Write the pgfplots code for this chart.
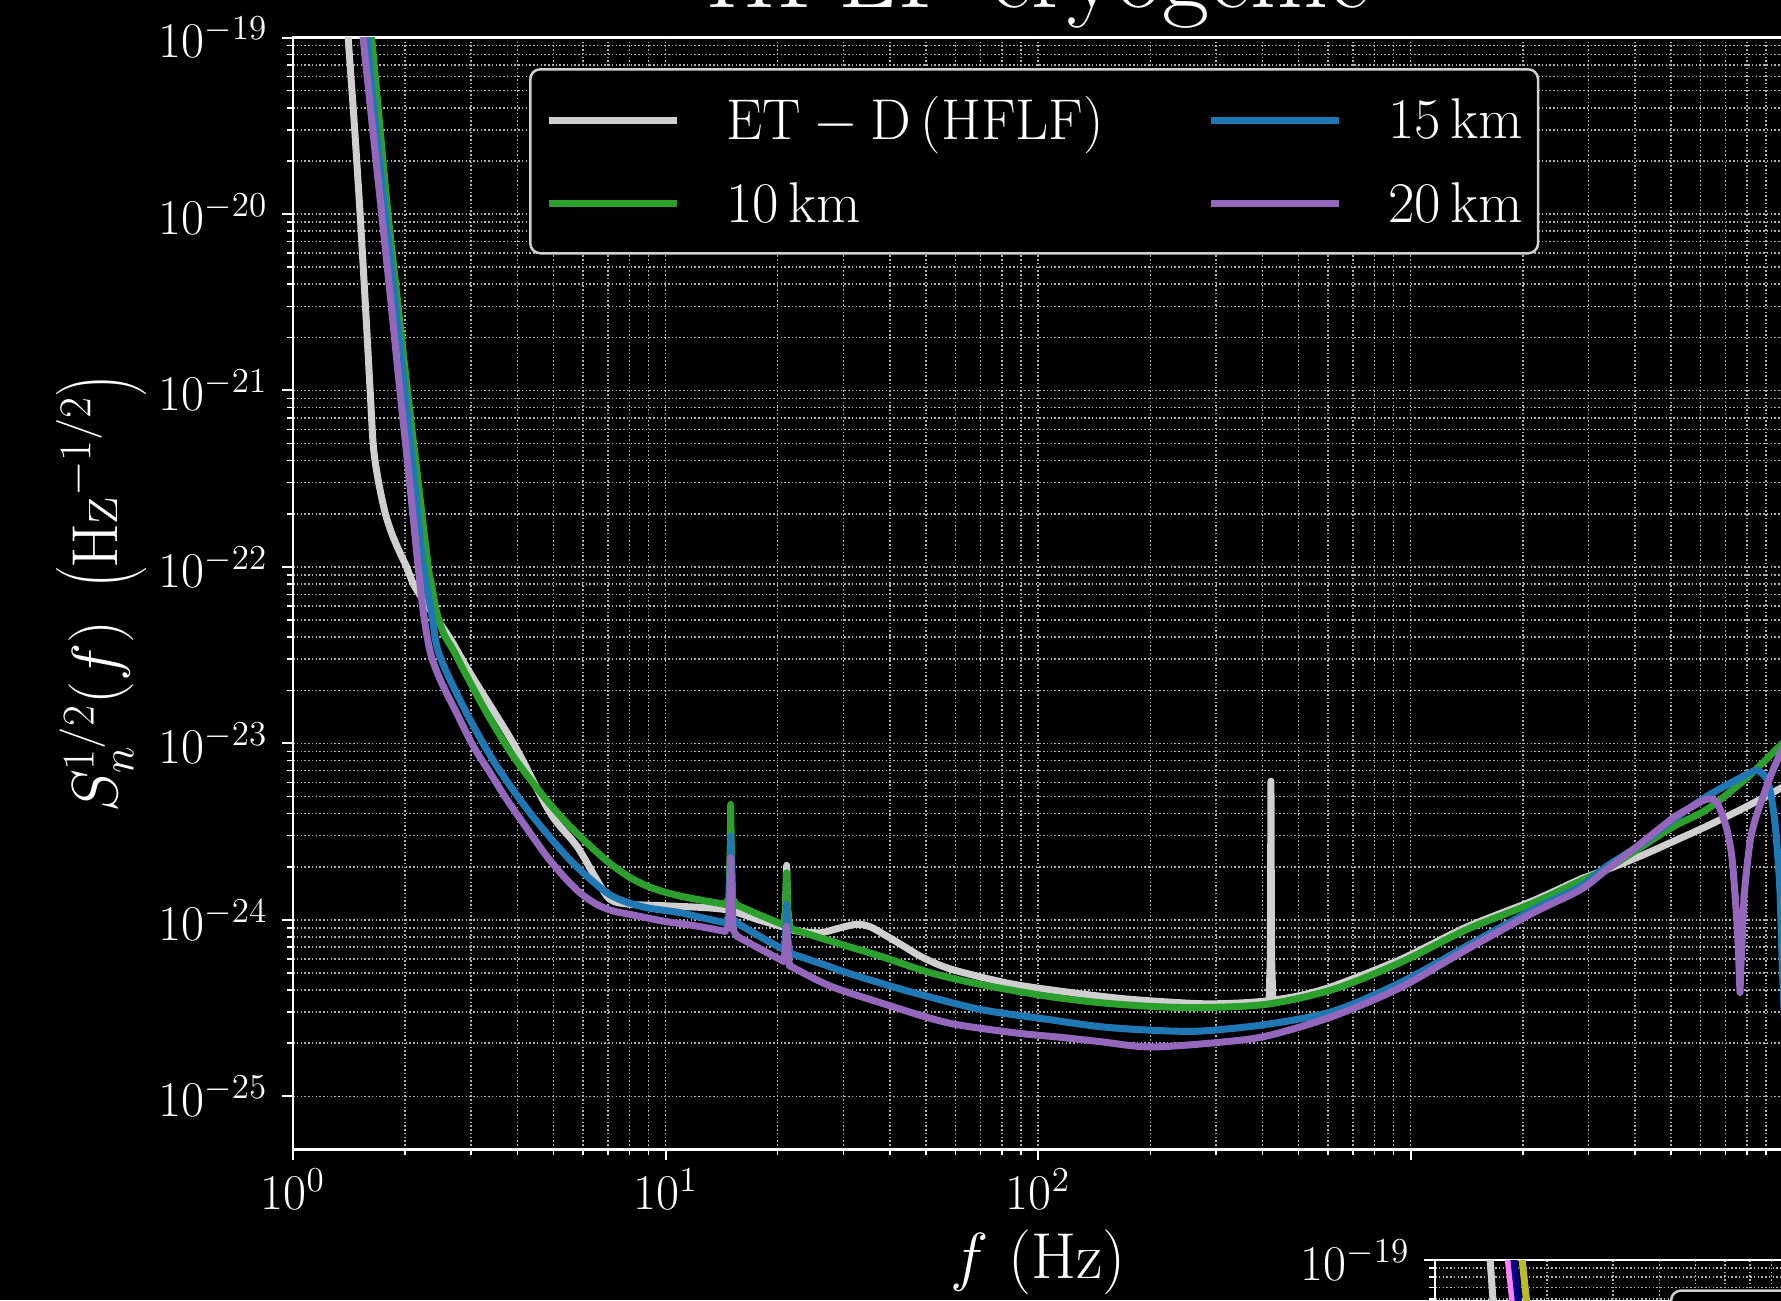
\RequirePackage{fix-cm}
\documentclass[border=0pt]{standalone}
\usepackage{pgfplots}
\pgfplotsset{compat=1.18}
\definecolor{etgray}{HTML}{CFCFCF}
\definecolor{tabgreen}{HTML}{2CA02C}
\definecolor{tabblue}{HTML}{1F77B4}
\definecolor{tabpurple}{HTML}{9467BD}
\definecolor{pinkv}{HTML}{FF80FF}
\definecolor{navyc}{HTML}{000080}
\definecolor{olivec}{HTML}{BCBD22}
\definecolor{gridc}{HTML}{B0B0B0}
\definecolor{legedge}{HTML}{D0D0D0}
\pgfplotsset{every axis/.append style={
    scale only axis, width=596.08pt, height=444.76pt,
    xmin=1, xmax=1e4, ymin=5e-26, ymax=1e-19,
    xtick={1,10,100,1000,10000},
    ytick={1e-25,1e-24,1e-23,1e-22,1e-21,1e-20,1e-19},
    axis line style={white, line width=0.9pt},
    xtick pos=left, ytick pos=left, tick align=outside,
    major tick length=4.4pt, minor tick length=2.4pt,
    major tick style={white, line width=0.8pt},
    minor tick style={white, line width=0.6pt},
    grid=both,
    major grid style={gridc, line width=0.6pt, dash pattern=on 0.6pt off 0.9pt},
    minor grid style={gridc, line width=0.6pt, dash pattern=on 0.6pt off 0.9pt},
    tick label style={white, font=\fontsize{20}{24}\selectfont},
    yticklabel style={xshift=-2.3pt},
  },
  every axis plot/.append style={line width=2.8pt, line join=round, line cap=round},
  sm/.style={smooth, tension=0.5},
}
\begin{document}
\begin{tikzpicture}
\fill[black] (0pt,0pt) rectangle (712.4pt,520pt);
\begin{loglogaxis}[
  at={(117.2pt,60.24pt)}, anchor=south west,
  xticklabels={$10^{0}$,$10^{1}$,$10^{2}$,,},
  title={HFLF cryogenic},
  title style={at={(axis description cs:0.5,1.0135)}, anchor=base, text=white, font=\fontsize{41}{49}\selectfont},
  xlabel={$f\ (\mathrm{Hz})$},
  xlabel style={at={(axis description cs:0.5,-0.1162)}, anchor=base, text=white, font=\fontsize{26}{30}\selectfont},
  ylabel={$S_n^{1/2}(f)\ \left(\mathrm{Hz}^{-1/2}\right)$},
  ylabel style={at={(axis description cs:-0.1288,0.5)}, anchor=center, text=white, font=\fontsize{26}{30}\selectfont},
  legend columns=2, legend cell align=left,
  legend image code/.code={\draw[#1, line width=2.8pt, line cap=butt] (0pt,0pt) -- (51.2pt,0pt);},
  legend style={at={(axis description cs:0.1584,0.9726)}, anchor=north west,
    fill=black, draw=legedge, line width=1pt, rounded corners=4pt,
    text=white, font=\fontsize{23}{27}\selectfont,
    inner xsep=6.1pt, inner ysep=9pt, row sep=11.4pt,
    nodes={inner xsep=0pt},
    /tikz/every odd column/.append style={column sep=18.2pt},
    /tikz/every even column/.append style={column sep=41.5pt}},
]
% ---------- ET-D (HFLF)
\addplot[etgray, sm, forget plot] coordinates {
(1.380,1.778e-19) (1.406,1e-19) (1.462,3.162e-20) (1.514,1e-20) (1.563,3.162e-21)
(1.611,1e-21) (1.644,4.786e-22) (1.694,3.090e-22) (1.766,2.042e-22) (1.841,1.549e-22)
(1.928,1.230e-22) (2.018,1e-22) (2.148,7.413e-23) (2.612,4.074e-23) (2.985,2.512e-23)
(3.945,9.638e-24) (4.898,4.046e-24) (5.781,2.618e-24) (6.531,1.694e-24) (7.096,1.306e-24)
(8.035,1.225e-24) (10,1.202e-24) (14.29,1.148e-24) (17.78,1.0e-24) (20.28,9.226e-25)
};
\addplot[etgray, forget plot] coordinates {
(20.28,9.226e-25) (20.75,9.120e-25) (20.99,1.122e-24) (21.09,1.660e-24) (21.14,2.037e-24)
(21.18,1.660e-24) (21.28,1.122e-24) (21.53,8.913e-25)
};
\addplot[etgray, sm, forget plot] coordinates {
(21.53,8.913e-25) (22.49,8.650e-25) (26.00,8.453e-25) (28.84,8.913e-25) (32.58,9.441e-25)
(35.48,9.120e-25) (39.26,8.091e-25) (43.65,7.079e-25) (48.20,6.237e-25) (54.95,5.495e-25)
(63.10,5.023e-25) (85.90,4.315e-25) (125.9,3.846e-25) (176.6,3.548e-25) (272.3,3.350e-25)
(354.8,3.388e-25) (416.9,3.483e-25)
};
\addplot[etgray, forget plot] coordinates {
(416.9,3.483e-25) (420.2,6.310e-25) (421.7,6.109e-24) (423.2,6.310e-25) (426.6,3.508e-25)
};
\addplot[etgray, sm, forget plot] coordinates {
(426.6,3.508e-25) (501.2,3.715e-25) (620.9,4.217e-25) (937.6,5.957e-25) (1416,9.120e-25)
(2138,1.288e-24) (2851,1.698e-24) (3311,1.905e-24) (4130,2.296e-24) (5012,2.754e-24)
(6237,3.396e-24) (7943,4.365e-24) (9886,5.598e-24) (11220,6.457e-24)
};
% ---------- 10 km
\addplot[tabgreen, sm, forget plot] coordinates {
(1.603,1.413e-19) (1.626,1e-19) (1.710,3.162e-20) (1.799,1e-20) (1.910,3.162e-21)
(2.028,1e-21) (2.163,3.162e-22) (2.307,1e-22) (2.355,7.943e-23) (2.432,5.495e-23)
(2.541,4.169e-23) (2.692,3.388e-23) (2.864,2.630e-23) (3.311,1.489e-23) (3.899,8.472e-24)
(4.699,5.023e-24) (5.321,3.707e-24) (5.888,2.985e-24) (6.531,2.427e-24) (7.244,2.018e-24)
(8.035,1.738e-24) (8.913,1.556e-24) (9.863,1.445e-24) (10.94,1.365e-24) (12.59,1.288e-24)
(14.45,1.225e-24)
};
\addplot[tabgreen, forget plot] coordinates {
(14.45,1.225e-24) (14.79,1.318e-24) (14.93,2.818e-24) (14.96,4.508e-24) (15.00,2.818e-24)
(15.14,1.318e-24) (15.52,1.216e-24)
};
\addplot[tabgreen, sm, forget plot] coordinates {
(15.52,1.216e-24) (17.78,1.072e-24) (20.28,9.550e-25) (20.75,9.333e-25)
};
\addplot[tabgreen, forget plot] coordinates {
(20.75,9.333e-25) (20.99,1.122e-24) (21.09,1.585e-24) (21.14,1.849e-24) (21.18,1.585e-24)
(21.28,1.122e-24) (21.53,9.016e-25)
};
\addplot[tabgreen, sm, forget plot] coordinates {
(21.53,9.016e-25) (22.03,8.831e-25) (26.30,7.852e-25) (30.62,7.112e-25) (37.67,6.237e-25)
(51.29,5.023e-25) (69.82,4.315e-25) (105.4,3.698e-25) (146.6,3.396e-25) (200,3.236e-25)
(272.3,3.184e-25) (411.1,3.327e-25) (620.9,4.046e-25) (937.6,5.728e-25) (1416,8.831e-25)
(2138,1.250e-24) (2851,1.660e-24) (3365,1.950e-24) (4130,2.564e-24) (5082,3.388e-24)
(6237,4.227e-24) (7943,6.310e-24) (9886,9.863e-24) (11220,1.259e-23)
};
% ---------- 15 km
\addplot[tabblue, sm, forget plot] coordinates {
(1.560,1.413e-19) (1.581,1e-19) (1.667,3.162e-20) (1.770,1e-20) (1.879,3.162e-21)
(1.995,1e-21) (2.114,3.162e-22) (2.239,1e-22) (2.355,5.495e-23) (2.432,3.548e-23)
(2.588,2.512e-23) (2.985,1.365e-23) (3.524,7.430e-24) (4.325,4.046e-24) (5.321,2.399e-24)
(6.012,1.849e-24) (6.950,1.426e-24) (7.709,1.279e-24) (8.913,1.172e-24) (10.94,1.099e-24)
(12.59,1.026e-24) (14.45,9.638e-25)
};
\addplot[tabblue, forget plot] coordinates {
(14.45,9.638e-25) (14.79,1.047e-24) (14.93,2.089e-24) (14.96,2.985e-24) (15.00,2.089e-24)
(15.14,1.023e-24) (15.52,9.638e-25)
};
\addplot[tabblue, sm, forget plot] coordinates {
(15.52,9.638e-25) (17.78,8.128e-25) (20.28,6.966e-25) (20.75,6.839e-25)
};
\addplot[tabblue, forget plot] coordinates {
(20.75,6.839e-25) (20.99,7.943e-25) (21.09,1.047e-24) (21.14,1.225e-24) (21.18,1.047e-24)
(21.28,7.943e-25) (21.53,6.531e-25)
};
\addplot[tabblue, sm, forget plot] coordinates {
(21.53,6.531e-25) (22.03,6.383e-25) (26.30,5.623e-25) (30.62,5.023e-25) (38.02,4.365e-25)
(46.24,3.873e-25) (69.82,3.112e-25) (105.4,2.735e-25) (146.6,2.483e-25) (200,2.371e-25)
(272.3,2.344e-25) (411.1,2.559e-25) (620.9,3.041e-25) (937.6,4.406e-25) (1416,7.112e-25)
(2138,1.148e-24) (2851,1.549e-24) (3365,2.018e-24) (4130,2.661e-24) (5082,3.715e-24)
(6237,5.012e-24) (7674,6.383e-24) (8414,7.047e-24) (8710,6.839e-24) (9037,6.310e-24)
(9247,5.248e-24) (9397,4.266e-24) (9528,3.388e-24) (9638,2.512e-24) (9750,1.778e-24)
(9818,1.318e-24) (9886,7.943e-25) (10000,3.981e-25) (10233,1.259e-25)
};
% ---------- 20 km
\addplot[tabpurple, sm, forget plot] coordinates {
(1.521,1.413e-19) (1.542,1e-19) (1.633,3.162e-20) (1.730,1e-20) (1.832,3.162e-21)
(1.936,1e-21) (2.051,3.162e-22) (2.168,1e-22) (2.239,5.495e-23) (2.334,3.311e-23)
(2.483,2.301e-23) (2.748,1.489e-23) (3.048,9.638e-24) (3.381,6.808e-24) (3.750,4.808e-24)
(4.325,3.119e-24) (4.797,2.296e-24) (5.321,1.770e-24) (5.888,1.426e-24) (6.531,1.225e-24)
(7.244,1.122e-24) (8.035,1.074e-24) (9.863,9.840e-25) (12.13,9.226e-25) (14.45,8.610e-25)
};
\addplot[tabpurple, forget plot] coordinates {
(14.45,8.610e-25) (14.79,9.333e-25) (14.93,1.585e-24) (14.96,2.249e-24) (15.00,1.585e-24)
(15.14,8.913e-25) (15.52,8.091e-25)
};
\addplot[tabpurple, sm, forget plot] coordinates {
(15.52,8.091e-25) (17.78,6.918e-25) (20.28,5.970e-25) (20.75,5.821e-25)
};
\addplot[tabpurple, forget plot] coordinates {
(20.75,5.821e-25) (20.99,6.761e-25) (21.09,8.318e-25) (21.14,9.226e-25) (21.18,8.318e-25)
(21.28,6.761e-25) (21.53,5.495e-25)
};
\addplot[tabpurple, sm, forget plot] coordinates {
(21.53,5.495e-25) (22.03,5.358e-25) (27.67,4.217e-25) (37.67,3.396e-25) (56.89,2.618e-25)
(85.90,2.296e-25) (116.9,2.153e-25) (146.6,2.042e-25) (200,1.905e-25) (302.0,2.018e-25)
(411.1,2.198e-25) (620.9,2.851e-25) (937.6,4.130e-25) (1416,6.808e-25) (2138,1.099e-24)
(2851,1.479e-24) (3365,1.932e-24) (4130,2.692e-24) (5082,3.802e-24) (5623,4.315e-24)
(6123,4.764e-24) (6368,4.853e-24) (6457,4.831e-24) (6637,4.624e-24) (6775,4.227e-24)
(7063,3.251e-24) (7278,2.296e-24) (7430,1.365e-24)
};
\addplot[tabpurple, forget plot] coordinates {
(7430,1.365e-24) (7534,8.831e-25) (7603,5.728e-25) (7656,3.873e-25) (7709,5.728e-25)
(7780,8.831e-25) (7852,1.365e-24)
};
\addplot[tabpurple, sm, forget plot] coordinates {
(7852,1.365e-24) (7998,2.018e-24) (8166,2.858e-24) (8414,3.707e-24) (8770,4.808e-24)
(9247,6.516e-24) (9886,9.036e-24) (10471,1.122e-23)
};
\addlegendimage{etgray}\addlegendentry{$\mathrm{ET-D\,(HFLF)}$}
\addlegendimage{tabblue}\addlegendentry{$15\,\mathrm{km}$}
\addlegendimage{tabgreen}\addlegendentry{$10\,\mathrm{km}$\rule[-17pt]{0pt}{1pt}}
\addlegendimage{tabpurple}\addlegendentry{$20\,\mathrm{km}$\rule[-17pt]{0pt}{1pt}}
\end{loglogaxis}
% second panel (only its top edge is inside the picture)
\begin{loglogaxis}[
  at={(574pt,-428.76pt)}, anchor=south west,
  xticklabels={},
]
\addplot[etgray] coordinates {(1.380,1.778e-19) (1.406,1e-19) (1.462,3.162e-20) (1.514,1e-20)};
\addplot[pinkv] coordinates {(1.552,1.413e-19) (1.574,1e-19) (1.667,3.162e-20) (1.766,1e-20)};
\addplot[navyc] coordinates {(1.607,1.413e-19) (1.629,1e-19) (1.726,3.162e-20) (1.828,1e-20)};
\addplot[olivec] coordinates {(1.690,1.413e-19) (1.714,1e-19) (1.816,3.162e-20) (1.923,1e-20)};
\draw[legedge, line width=1pt, rounded corners=4pt, fill=black]
  (axis description cs:0.1584,0.9726) rectangle (axis description cs:0.84,0.80);
\end{loglogaxis}
\pgfresetboundingbox
\useasboundingbox (0pt,0pt) rectangle (712.4pt,520pt);
\end{tikzpicture}
\end{document}
